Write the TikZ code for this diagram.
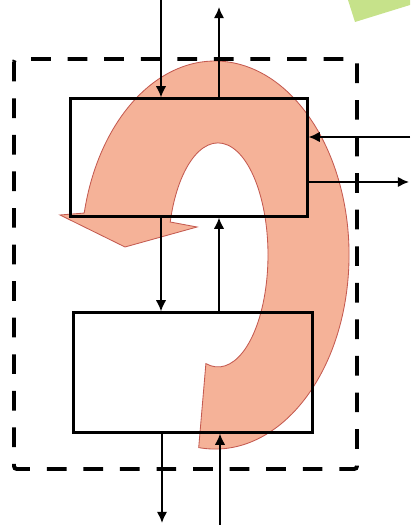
\documentclass[tikz,border=0pt]{standalone}
\usepackage{tikz}
\usetikzlibrary{arrows.meta}
\definecolor{loopfill}{RGB}{245,178,152}
\definecolor{loopedge}{RGB}{196,90,80}
\definecolor{notegreen}{RGB}{198,226,138}
\tikzset{
  unit/.style={draw,line width=2.1pt,minimum width=5.9cm,minimum height=2.93cm,inner sep=0pt},
  flow/.style={line width=1.3pt,-{Latex[length=8pt,width=7.5pt]}},
  bound/.style={line width=2.8pt,dash pattern=on 14pt off 12pt,rounded corners=2pt}
}

\begin{document}
\begin{tikzpicture}[x=0.025cm,y=0.025cm,>=Latex]
  \useasboundingbox (0,0) rectangle (410,525);
  % green note, cut off at the corner
  \fill[notegreen] (348,525) -- (355,503) -- (410,520) -- (410,525) -- cycle;
  % the big turning arrow
  \filldraw[fill=loopfill,draw=loopedge,line width=0.6pt]
    (198.7,77.4) arc[start angle=-97,end angle=167.5,x radius=134,y radius=194]
    -- (60,310) -- (125,278) -- (197,298) -- (170.2,303)
    arc[start angle=162.9,end angle=-104,x radius=50,y radius=112] -- cycle;
  % system boundary
  \draw[bound] (14,466) rectangle (357,56);
  \node[unit] (upper) at (189,367.5) {};
  \node[unit,minimum width=5.95cm,minimum height=2.98cm] (lower) at (193,152.5) {};
  \coordinate (topin) at (161,525);
  \coordinate (topout) at (219,518);
  \coordinate (rin) at (410,388);
  \coordinate (rout) at (409,343);
  \coordinate (botout) at (162,2);
  \coordinate (botin) at (220,0);
  \draw[flow] (topin) -- (topin |- upper.north);
  \draw[flow] (topout |- upper.north) -- (topout);
  \draw[flow] (rin) -- (rin -| upper.east);
  \draw[flow] (rout -| upper.east) -- (rout);
  \draw[flow] (topin |- upper.south) -- (topin |- lower.north);
  \draw[flow] (topout |- lower.north) -- (topout |- upper.south);
  \draw[flow] (botout |- lower.south) -- (botout);
  \draw[flow] (botin) -- (botin |- lower.south);
\end{tikzpicture}
\end{document}
